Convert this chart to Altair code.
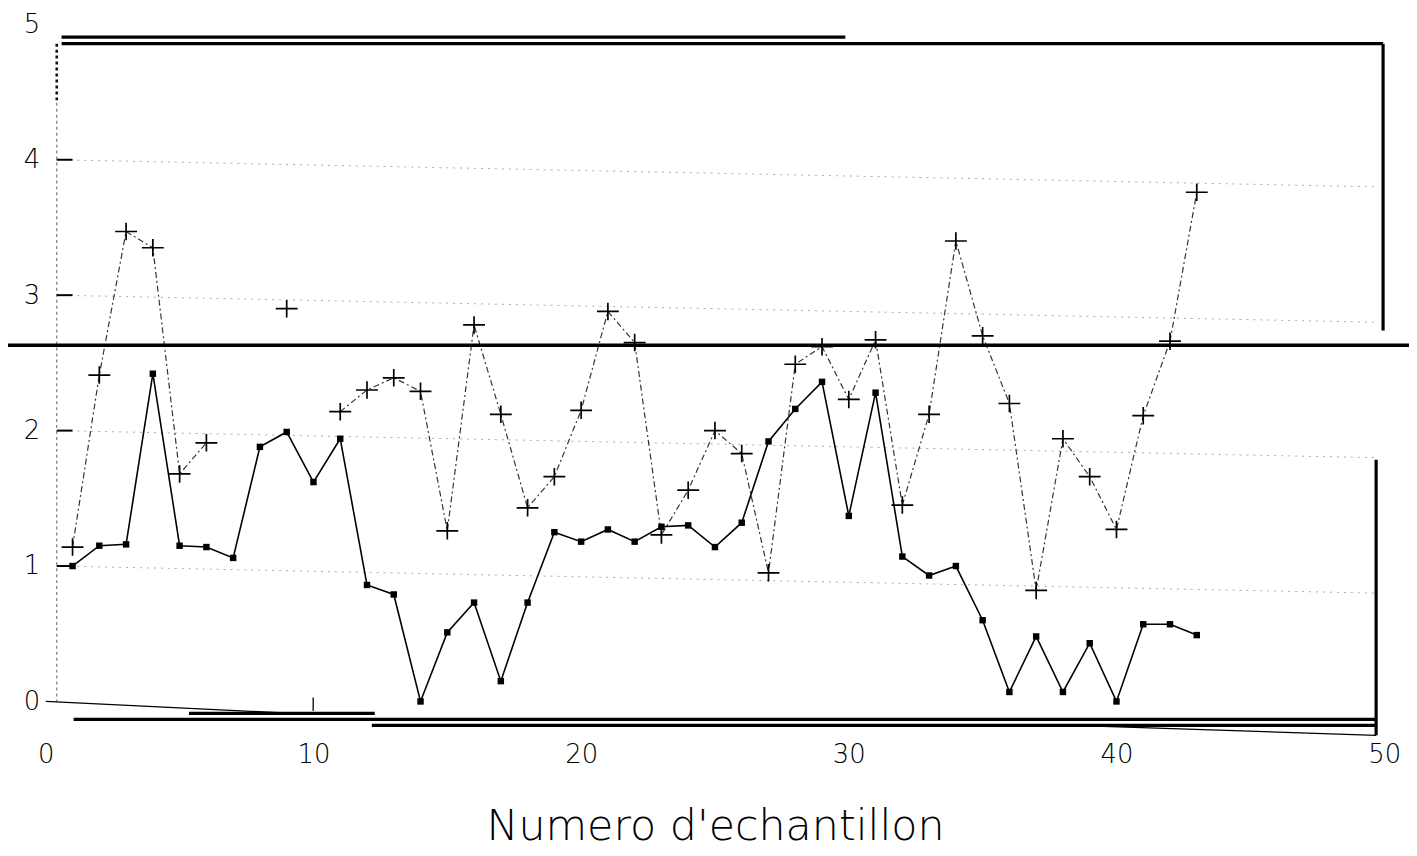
import altair as alt
import pandas as pd

# ---- data ----
samples = list(range(1, 44))
plus_values = [1.14, 2.41, 3.47, 3.35, 1.68, 1.91, None, None, 2.90, None,
               2.14, 2.30, 2.39, 2.29, 1.26, 2.78, 2.12, 1.43, 1.66, 2.15,
               2.88, 2.65, 1.23, 1.56, 2.00, 1.83, 0.95, 2.49, 2.62, 2.23,
               2.67, 1.45, 2.12, 3.40, 2.70, 2.20, 0.82, 1.94, 1.66, 1.27,
               2.11, 2.66, 3.76]
square_values = [1.00, 1.15, 1.16, 2.42, 1.15, 1.14, 1.06, 1.88, 1.99, 1.62,
                 1.94, 0.86, 0.79, 0.00, 0.51, 0.73, 0.15, 0.73, 1.25, 1.18,
                 1.27, 1.18, 1.29, 1.30, 1.14, 1.32, 1.92, 2.16, 2.36, 1.37,
                 2.28, 1.07, 0.93, 1.00, 0.60, 0.07, 0.48, 0.07, 0.43, 0.00,
                 0.57, 0.57, 0.49]
limit_value = [2.63]
x_ticks = [0, 10, 20, 30, 40, 50]
y_ticks = [0, 1, 2, 3, 4, 5]
x_title = "Numero d'echantillon"

# ---- tables ----
rows = []
seg = 0
gap = True
for s, v in zip(samples, plus_values):
    if v is None:
        gap = True
        continue
    if gap:
        seg += 1
        gap = False
    rows.append({"sample": s, "value": v, "seg": seg})
plus_df = pd.DataFrame(rows)
sq_df = pd.DataFrame({"sample": samples, "value": square_values})
lim_df = pd.DataFrame({"value": limit_value})

# decorative frame pieces of the scanned plot (sample, sample2, value, value2, width)
frame = [
    (0.59, 29.87, 4.905, 4.905, 3.2),
    (0.59, 49.96, 4.857, 4.857, 3.2),
    (49.96, 49.96, 4.857, 2.74, 3.2),
    (49.70, 49.70, 1.784, -0.25, 3.2),
    (1.04, 49.70, -0.132, -0.132, 3.2),
    (12.18, 49.70, -0.176, -0.176, 3.2),
    (5.35, 12.29, -0.088, -0.088, 3.2),
    (0.0, 9.99, 0.0, -0.095, 1.3),
    (39.5, 49.70, -0.184, -0.25, 1.3),
    (9.99, 9.99, 0.03, -0.07, 1.3),
]
frame_df = pd.DataFrame(frame, columns=["sample", "sample2", "value", "value2", "w"])
ytick_df = pd.DataFrame({"sample": [0.41] * 4, "sample2": [1.0] * 4,
                         "value": [1, 2, 3, 4], "value2": [1, 2, 3, 4]})
grid_df = pd.DataFrame({"sample": [0.4] * 4, "sample2": [49.7] * 4,
                        "value": [1, 2, 3, 4], "value2": [0.8, 1.8, 2.8, 3.8]})
yline_df = pd.DataFrame({"sample": [0.41, 0.41], "sample2": [0.41, 0.41],
                         "value": [4.857, 4.42], "value2": [4.42, 0.0],
                         "w": [2.6, 1.2], "c": ["#111111", "#777777"]})

FONT = "DejaVu Sans"
W, H = 1346, 681

xscale = alt.Scale(domain=[0, 50], nice=False, zero=False)
yscale = alt.Scale(domain=[0, 5], nice=False, zero=False)
xaxis = alt.Axis(values=x_ticks, title=x_title, domain=False, ticks=False, grid=False,
                 labelFont=FONT, labelFontSize=26, labelFontWeight=200, labelColor="black",
                 labelPadding=40, labelFlush=False,
                 titleFont=FONT, titleFontSize=43, titleFontWeight=200, titleColor="black",
                 titleY=139, titleBaseline="alphabetic")
yaxis = alt.Axis(values=y_ticks, title="", domain=False, ticks=False, grid=False,
                 labelFont=FONT, labelFontSize=26, labelFontWeight=200, labelColor="black",
                 labelPadding=6, labelFlush=False)


def X(f="sample"):
    return alt.X(f"{f}:Q", scale=xscale, axis=xaxis)


def Y(f="value"):
    return alt.Y(f"{f}:Q", scale=yscale, axis=yaxis)


grid = alt.Chart(grid_df).mark_rule(color="#aaaaaa", strokeDash=[2, 5], strokeWidth=1).encode(
    x=X(), x2="sample2:Q", y=Y(), y2="value2:Q")

yline = alt.Chart(yline_df).mark_rule(strokeDash=[3, 3]).encode(
    x=X(), x2="sample2:Q", y=Y(), y2="value2:Q",
    strokeWidth=alt.StrokeWidth("w:Q", scale=None, legend=None),
    color=alt.Color("c:N", scale=None, legend=None))

yticks = alt.Chart(ytick_df).mark_rule(color="black", strokeWidth=2).encode(
    x=X(), x2="sample2:Q", y=Y(), y2="value2:Q")

frame_layer = alt.Chart(frame_df).mark_rule(color="black").encode(
    x=X(), x2="sample2:Q", y=Y(), y2="value2:Q",
    strokeWidth=alt.StrokeWidth("w:Q", scale=None, legend=None))

limit = alt.Chart(lim_df).mark_rule(color="black", strokeWidth=3.5).encode(
    x=alt.value(-38), x2=alt.value(W + 25), y=Y())

plus_line = alt.Chart(plus_df).mark_line(color="black", strokeWidth=1.2, strokeDash=[6, 3, 2, 3],
                                         opacity=0.8).encode(
    x=X(), y=Y(), detail="seg:N")
plus_pts = alt.Chart(plus_df).mark_point(shape="M-1,0L1,0M0,-0.8L0,0.8", filled=False,
                                         color="black", size=484, strokeWidth=1.7,
                                         opacity=1).encode(x=X(), y=Y())

sq_line = alt.Chart(sq_df).mark_line(color="black", strokeWidth=1.6).encode(x=X(), y=Y())
sq_pts = alt.Chart(sq_df).mark_square(color="black", size=42, opacity=1).encode(x=X(), y=Y())

chart = alt.layer(grid, yline, yticks, frame_layer, limit, plus_line, sq_line, plus_pts, sq_pts).properties(
    width=W, height=H,
    autosize=alt.AutoSizeParams(type="none"),
    padding={"left": 38, "top": 14, "right": 25, "bottom": 150},
    background="white",
).configure_view(stroke=None)

chart.save("out.html", embed_options={"renderer": "svg", "actions": False})
